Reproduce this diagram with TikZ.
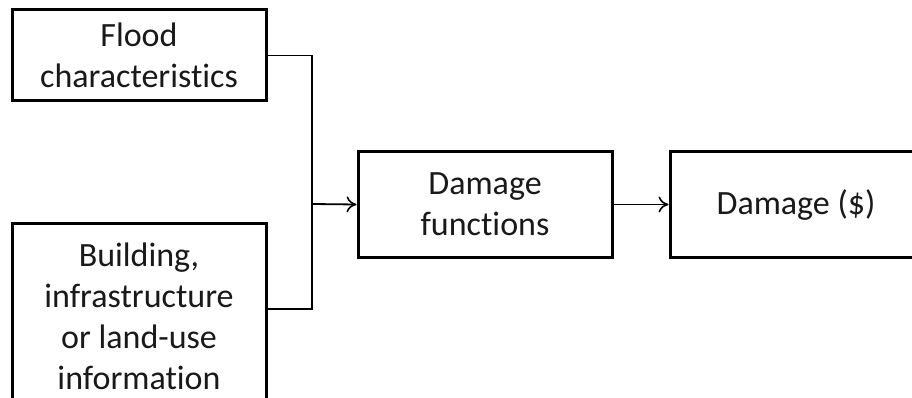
\documentclass[tikz,border=0pt]{standalone}
\usepackage{fontspec}
\setmainfont[Ligatures=NoCommon]{Carlito}
\usetikzlibrary{arrows.meta}
\tikzset{
  box/.style={draw=black, line width=3pt, align=center, inner sep=0pt,
    font=\fontsize{34}{41}\selectfont, text=black!90},
  conn/.style={draw=black, line width=1.8pt},
  arr/.style={conn, -{To[length=10pt,width=16pt,line width=1.6pt]}}
}
\begin{document}
\begin{tikzpicture}[x=1pt,y=-1pt]
\useasboundingbox (0,0) rectangle (912,398);
\fill[white] (0,0) rectangle (912,398);
\clip (0,0) rectangle (912,398);
\node[box, minimum width=254pt, minimum height=91pt] (flood) at (139,55.5) {Flood\\characteristics};
\node[box, minimum width=254pt, minimum height=187pt] (build) at (139,316.5) {Building,\\infrastructure\\or land-use\\information};
\node[box, minimum width=254pt, minimum height=105pt] (df) at (485,204.5) {Damage\\functions};
\node[box, minimum width=252pt, minimum height=105pt] (dmg) at (796,204.5) {Damage (\$)};
\coordinate (j) at (312,204);
\draw[conn] (flood.east) -| (j);
\draw[conn] ([yshift=7.5pt]build.east) -| (j);
\draw[arr] (j) -- (df.west);
\draw[arr] (df.east) -- (dmg.west);
\end{tikzpicture}
\end{document}
